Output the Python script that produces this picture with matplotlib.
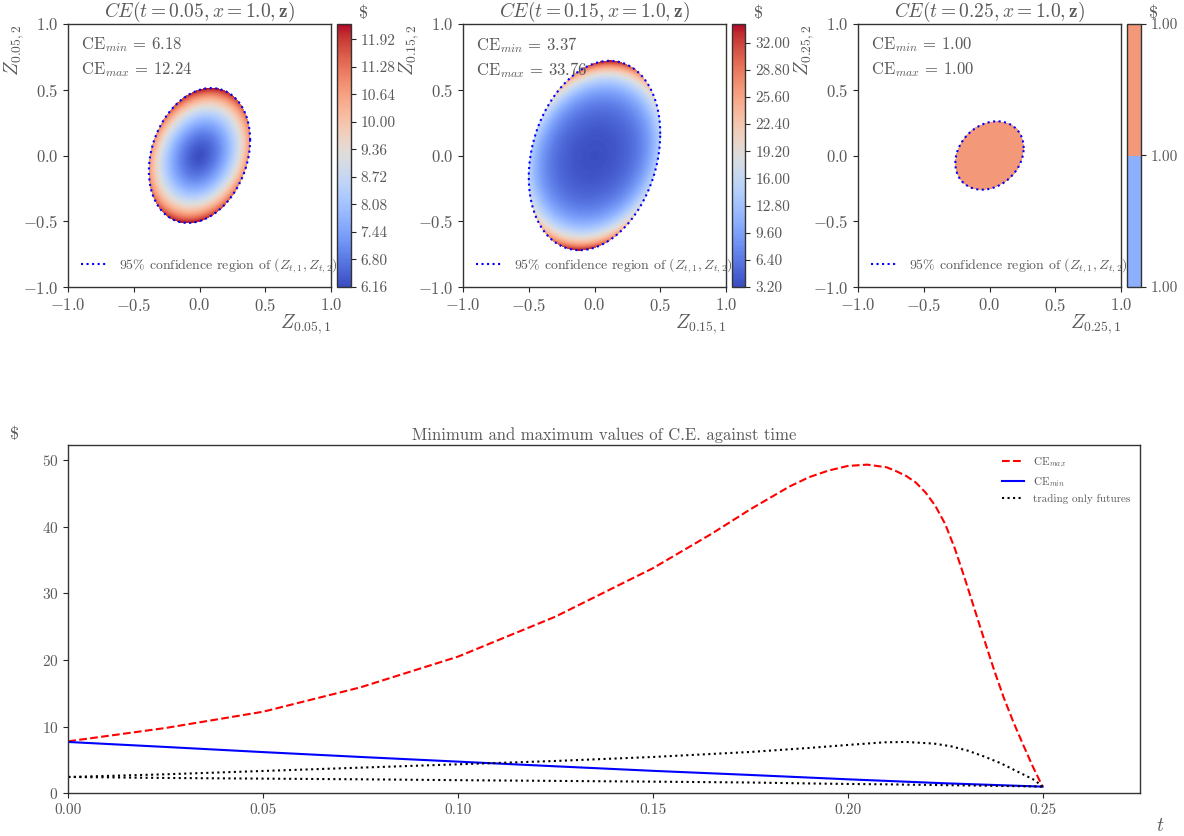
import numpy as np
import matplotlib
matplotlib.use("Agg")
import matplotlib.pyplot as plt

plt.rcParams.update({
    "font.family": "serif",
    "font.serif": ["cmr10"],
    "mathtext.fontset": "cm",
    "axes.formatter.use_mathtext": True,
    "font.size": 12,
    "text.color": "0.35",
    "axes.labelcolor": "0.35",
    "xtick.labelcolor": "0.35",
    "ytick.labelcolor": "0.35",
    "xtick.color": "0.15",
    "ytick.color": "0.15",
    "axes.edgecolor": "0.2",
    "axes.linewidth": 1.0,
})

# top row: CE surface over the 95% region of (Z_t1, Z_t2)
times = ["0.05", "0.15", "0.25"]
ce_min_vals = [6.18, 3.37, 1.00]
ce_max_vals = [12.24, 33.76, 1.00]
ell_w = [0.385, 0.50, 0.26]      # half width of region along Z_t1
ell_h = [0.513, 0.72, 0.26]      # half height along Z_t2
ell_rho = [0.23, 0.23, 0.22]
tip_weight = [0.235, 0.586, 0.0]
radial_pow = [0.8, 1.0, 1.0]
cbar_levels = [
    np.arange(6.16, 12.28 + 0.02, 0.04),
    np.arange(3.20, 34.20 + 0.1, 0.20),
    np.array([1 - 3e-6, 1 - 1e-6, 1 + 1e-6]),
]

# bottom: min / max of CE against time
t_max = [0.0, 0.025, 0.05, 0.075, 0.10, 0.125, 0.15, 0.165, 0.175, 0.185, 0.19, 0.195,
         0.20, 0.205, 0.21, 0.2125, 0.215, 0.2175, 0.22, 0.2225, 0.225, 0.2275, 0.23,
         0.2325, 0.235, 0.2375, 0.24, 0.2425, 0.245, 0.2475, 0.25]
ce_max_t = [7.8, 9.8, 12.24, 15.9, 20.5, 26.5, 33.76, 38.9, 42.6, 46.0, 47.4, 48.4,
            49.1, 49.3, 48.9, 48.3, 47.6, 46.6, 45.1, 43.1, 40.4, 36.7, 32.3,
            27.7, 23.1, 18.6, 14.4, 10.7, 7.3, 4.0, 1.0]
t_min = [0.0, 0.025, 0.05, 0.075, 0.10, 0.125, 0.15, 0.175, 0.20, 0.225, 0.25]
ce_min_t = [7.7, 6.95, 6.18, 5.45, 4.75, 4.05, 3.37, 2.75, 2.1, 1.5, 1.0]
t_fut = [0.0, 0.025, 0.05, 0.075, 0.10, 0.125, 0.15, 0.175, 0.19, 0.20, 0.2094, 0.215,
         0.2222, 0.2265, 0.2308, 0.2351, 0.2393, 0.2436, 0.2479, 0.25]
fut_upper = [2.45, 2.85, 3.35, 3.85, 4.35, 4.85, 5.45, 6.2, 6.8, 7.25, 7.65, 7.7,
             7.45, 7.05, 6.4, 5.5, 4.5, 3.25, 2.0, 1.0]
fut_lower = [2.45, 2.3, 2.2, 2.1, 1.97, 1.86, 1.75, 1.62, 1.48, 1.4, 1.35, 1.3,
             1.25, 1.21, 1.18, 1.14, 1.1, 1.07, 1.03, 1.0]

W, H = 1184, 836
fig = plt.figure(figsize=(W / 100, H / 100), dpi=100)

ax_left = [68, 463, 858]
grid = np.linspace(-1, 1, 500)
X, Y = np.meshgrid(grid, grid)
theta = np.linspace(0, 2 * np.pi, 400)

for i in range(3):
    ax = fig.add_axes([ax_left[i] / W, 1 - 287 / H, 263 / W, 263 / H])
    cax = fig.add_axes([(ax_left[i] + 269) / W, 1 - 287 / H, 13.5 / W, 263 / H])
    a, b, r = ell_w[i], ell_h[i], ell_rho[i]
    cov = np.array([[a * a, r * a * b], [r * a * b, b * b]])
    inv = np.linalg.inv(cov)
    r2 = inv[0, 0] * X ** 2 + 2 * inv[0, 1] * X * Y + inv[1, 1] * Y ** 2
    u = tip_weight[i]
    g = (np.clip(r2, 0, None) ** radial_pow[i] + u * (Y / b) ** 2) / (1 + u)
    Z = ce_min_vals[i] * (ce_max_vals[i] / ce_min_vals[i]) ** g
    Z = np.ma.masked_where(r2 > 1, Z)
    cs = ax.contourf(X, Y, Z, levels=cbar_levels[i], cmap="coolwarm")
    L = np.linalg.cholesky(cov)
    bnd = L @ np.vstack([np.cos(theta), np.sin(theta)])
    ax.plot(bnd[0], bnd[1], ":", color="blue", lw=1.5,
            label=r"95% confidence region of $(Z_{t,1}, Z_{t,2})$")
    ax.set_xlim(-1, 1)
    ax.set_ylim(-1, 1)
    ax.set_xticks([-1, -0.5, 0, 0.5, 1])
    ax.set_yticks([-1, -0.5, 0, 0.5, 1])
    ax.set_title(r"$CE(t = %s, x = 1.0, \mathbf{z})$" % times[i], fontsize=14, pad=3)
    ax.set_xlabel(r"$Z_{%s,1}$" % times[i], loc="right", fontsize=14, labelpad=-1)
    ax.set_ylabel(r"$Z_{%s,2}$" % times[i], loc="top", fontsize=14)
    ax.yaxis.set_label_coords(-0.16, 1.0)
    ax.text(0.05, 0.92, r"CE$_{min}$ = %.2f" % ce_min_vals[i], transform=ax.transAxes,
            va="center", fontsize=12)
    ax.text(0.05, 0.825, r"CE$_{max}$ = %.2f" % ce_max_vals[i], transform=ax.transAxes,
            va="center", fontsize=12)
    ax.legend(loc="lower left", frameon=False, fontsize=10)
    cb = fig.colorbar(cs, cax=cax, format="%.2f")
    lev = cbar_levels[i]
    step = int(np.ceil(len(lev) / 10))
    cb.set_ticks(lev[::step])
    cb.ax.tick_params(labelsize=11)
    cb.ax.text(1.95, 1.01, r"\$", transform=cb.ax.transAxes, ha="center", va="bottom",
               fontsize=13)

ax = fig.add_axes([68.3 / W, 1 - 793.3 / H, (1140 - 68.3) / W, (793.3 - 445.3) / H])
ax.plot(t_max, ce_max_t, "--", color="red", lw=1.5, label=r"CE$_{max}$")
ax.plot(t_min, ce_min_t, "-", color="blue", lw=1.5, label=r"CE$_{min}$")
ax.plot(t_fut, fut_upper, ":", color="black", lw=1.5, label="trading only futures")
ax.plot(t_fut, fut_lower, ":", color="black", lw=1.5)
ax.set_xlim(0, 0.275)
ax.set_ylim(0, 52.2)
ax.set_xticks([0, 0.05, 0.10, 0.15, 0.20, 0.25])
ax.xaxis.set_major_formatter(matplotlib.ticker.FormatStrFormatter("%.2f"))
ax.set_yticks([0, 10, 20, 30, 40, 50])
ax.tick_params(labelsize=11)
ax.set_title("Minimum and maximum values of C.E. against time", fontsize=12, pad=4)
ax.set_xlabel("$t$", fontsize=14)
ax.xaxis.set_label_coords(1.019, -0.068)
ax.set_ylabel(r"\$", rotation=0, fontsize=13)
ax.yaxis.set_label_coords(-0.05, 1.01)
ax.legend(loc="upper right", frameon=False, fontsize=8)

fig.savefig("out.png", dpi=100)
